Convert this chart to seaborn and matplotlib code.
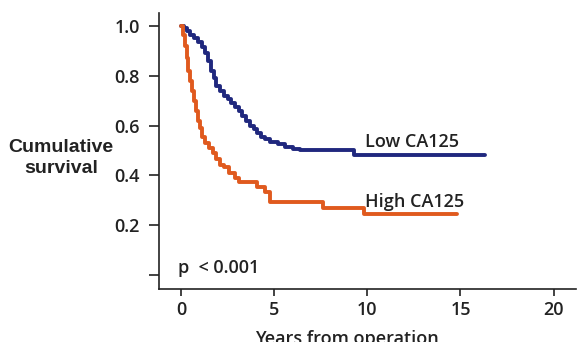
import pandas as pd
import seaborn as sns
import matplotlib.pyplot as plt

# Kaplan-Meier step points (time of drop, survival after drop)
low_time = [0, 0.15, 0.3, 0.5, 0.7, 0.9, 1.1, 1.3, 1.45, 1.6, 1.75, 1.9, 2.1, 2.3, 2.5,
            2.7, 2.9, 3.1, 3.3, 3.5, 3.7, 3.9, 4.1, 4.3, 4.5, 4.8, 5.2, 5.6, 6.0, 6.4,
            9.3, 16.3]
low_surv = [1.0, 0.99, 0.98, 0.965, 0.95, 0.935, 0.915, 0.89, 0.86, 0.82, 0.79, 0.76,
            0.74, 0.72, 0.705, 0.69, 0.675, 0.66, 0.64, 0.62, 0.60, 0.585, 0.57, 0.555,
            0.545, 0.535, 0.525, 0.515, 0.505, 0.50, 0.48, 0.48]

high_time = [0, 0.1, 0.2, 0.3, 0.4, 0.5, 0.6, 0.7, 0.8, 0.9, 1.0, 1.15, 1.3, 1.5, 1.7,
             1.9, 2.1, 2.3, 2.6, 2.9, 3.1, 4.1, 4.5, 4.8, 7.6, 9.8, 14.8]
high_surv = [1.0, 0.965, 0.92, 0.87, 0.82, 0.78, 0.74, 0.70, 0.66, 0.62, 0.59, 0.555,
             0.53, 0.51, 0.49, 0.465, 0.44, 0.435, 0.41, 0.39, 0.375, 0.355, 0.335,
             0.295, 0.27, 0.245, 0.245]

groups = ["Low CA125", "High CA125"]
colors = ["#20287e", "#e05a1e"]
x_ticks = [0, 5, 10, 15, 20]
y_ticks = [0.0, 0.2, 0.4, 0.6, 0.8, 1.0]
y_tick_labels = ["", "0.2", "0.4", "0.6", "0.8", "1.0"]

df = pd.concat([
    pd.DataFrame({"time": low_time, "surv": low_surv, "group": groups[0]}),
    pd.DataFrame({"time": high_time, "surv": high_surv, "group": groups[1]}),
])

sns.set_style("ticks")
plt.rcParams["font.family"] = ["Open Sans", "DejaVu Sans"]

fig = plt.figure(figsize=(5.77, 3.42), dpi=100)
ax = fig.add_axes([0.2756, 0.155, 0.7227, 0.807])

sns.lineplot(data=df, x="time", y="surv", hue="group", palette=dict(zip(groups, colors)),
             estimator=None, sort=False, drawstyle="steps-post", linewidth=2.8,
             legend=False, ax=ax)

ax.set_xlim(-1.18, 21.2)
ax.set_ylim(-0.056, 1.052)
ax.set_xticks(x_ticks)
ax.set_yticks(y_ticks)
ax.set_yticklabels(y_tick_labels)
ax.tick_params(labelsize=13, width=1.2, color="#222222", labelcolor="#222222")
ax.tick_params(axis="y", length=7, pad=7)
ax.tick_params(axis="x", length=5, pad=4)
for lab in ax.get_xticklabels() + ax.get_yticklabels():
    lab.set_fontweight("semibold")
for s in ["top", "right"]:
    ax.spines[s].set_visible(False)
for s in ["left", "bottom"]:
    ax.spines[s].set_linewidth(1.2)
    ax.spines[s].set_color("#222222")

ax.set_xlabel("Years from operation", fontsize=13, fontweight="semibold", color="#222222")
ax.xaxis.set_label_coords(0.45, -0.15)
ax.set_ylabel("")
fig.text(0.106, 0.538, "Cumulative\nsurvival", ha="center", va="center", fontsize=14,
         family=["Liberation Sans"], fontweight="bold", color="#222222", linespacing=1.35)

ax.text(9.9, 0.536, groups[0], fontsize=13, fontweight="semibold", va="center", color="#222222")
ax.text(9.9, 0.292, groups[1], fontsize=13, fontweight="semibold", va="center", color="#222222")
ax.text(-0.15, 0.03, "p  < 0.001", fontsize=13, fontweight="semibold", va="center", color="#222222")

fig.savefig("out.png", dpi=100)
